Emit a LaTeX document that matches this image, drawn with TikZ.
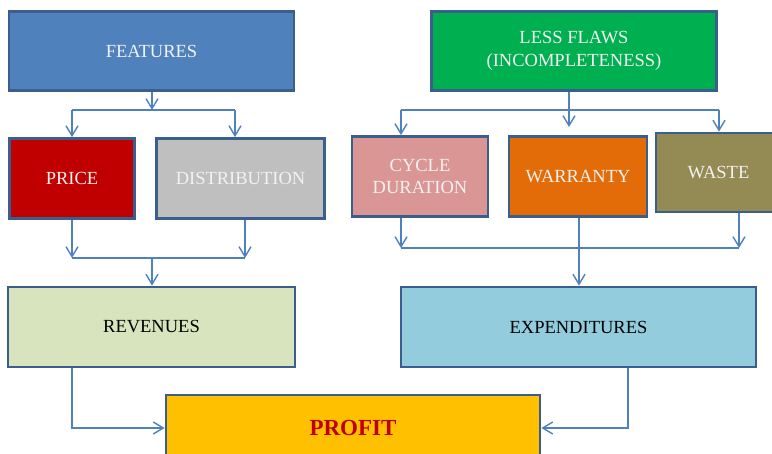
\documentclass[tikz,border=0pt]{standalone}
\usepackage{fontspec}
\setmainfont{Liberation Serif}
\usetikzlibrary{arrows.meta}
\definecolor{bord}{HTML}{3A5F8E}
\definecolor{conn}{HTML}{4F81BD}
\definecolor{cFeat}{HTML}{4F81BD}
\definecolor{cPrice}{HTML}{C00000}
\definecolor{cDist}{HTML}{BFBFBF}
\definecolor{cFlaws}{HTML}{00B050}
\definecolor{cCycle}{HTML}{D99694}
\definecolor{cWarr}{HTML}{E36C09}
\definecolor{cWaste}{HTML}{948A54}
\definecolor{cRev}{HTML}{D7E4BD}
\definecolor{cExp}{HTML}{93CDDD}
\definecolor{cProfit}{HTML}{FFC000}
\definecolor{ltext}{HTML}{F2F2F2}
\definecolor{ptext}{HTML}{C00000}
\tikzset{
  box/.style={draw=bord, line width=2.8pt, rectangle, inner sep=0pt, align=center,
    font=\fontsize{18.5}{22.5}\selectfont, text=ltext},
  conline/.style={draw=conn, line width=1.4pt},
  arr/.style={conline, -{Straight Barb[length=10pt,width=12pt,line width=1.4pt]}},
}
\begin{document}
\begin{tikzpicture}[x=1pt,y=-1pt]
\useasboundingbox (0,0) rectangle (772,454);
% boxes
\node[box, fill=cFeat, minimum width=285pt, minimum height=79pt] (feat) at (151.5,51) {FEATURES};
\node[box, fill=cPrice, minimum width=125pt, minimum height=80pt] (price) at (72,178.5) {PRICE};
\node[box, fill=cDist, minimum width=168pt, minimum height=80pt] (dist) at (240.5,178.5) {DISTRIBUTION};
\node[box, fill=cFlaws, minimum width=285pt, minimum height=79pt] (flaws) at (574,51) {LESS FLAWS\\(INCOMPLETENESS)};
\node[box, fill=cCycle, minimum width=136pt, minimum height=80pt] (cycle) at (420,176.5) {CYCLE\\DURATION};
\node[box, fill=cWarr, minimum width=138pt, minimum height=80pt] (warr) at (578,176.5) {WARRANTY};
\node[box, fill=cWaste, minimum width=125pt, minimum height=79pt] (waste) at (718.5,172.5) {WASTE};
\node[box, fill=cRev, text=black, minimum width=287pt, minimum height=80pt] (rev) at (151.5,327) {REVENUES};
\node[box, fill=cExp, text=black, minimum width=355pt, minimum height=80pt] (exp) at (578.5,327) {EXPENDITURES};
\node[box, fill=cProfit, text=ptext, font=\fontsize{23}{26}\selectfont\bfseries, minimum width=374pt, minimum height=66pt] (profit) at (353,428) {PROFIT};
% coordinates
\coordinate (fj) at (152,110);
\coordinate (fl) at (72,110);
\coordinate (fr) at (235,110);
\coordinate (pl) at (72,258);
\coordinate (dr) at (245,258);
\coordinate (rj) at (152,258);
\coordinate (lj) at (569,127);
\coordinate (cl) at (401,110);
\coordinate (wr) at (719,110);
\coordinate (cb) at (401,248);
\coordinate (wb) at (739,248);
\coordinate (xb) at (579,248);
\coordinate (rc) at (72,428);
\coordinate (ec) at (628,428);
% left top
\draw[arr] (fj |- feat.south) -- (fj);
\draw[conline] (fl) -- (fr);
\draw[arr] (fl) -- (fl |- price.north);
\draw[arr] (fr) -- (fr |- dist.north);
% left bottom
\draw[arr] (pl |- price.south) -- (pl);
\draw[arr] (dr |- dist.south) -- (dr);
\draw[conline] (pl) -- (dr);
\draw[arr] (rj) -- (rj |- rev.north);
% right top
\draw[arr] (lj |- flaws.south) -- (lj);
\draw[conline] (cl) -- (wr);
\draw[arr] (cl) -- (cl |- cycle.north);
\draw[arr] (wr) -- (wr |- waste.north);
% right bottom
\draw[arr] (cb |- cycle.south) -- (cb);
\draw[arr] (wb |- waste.south) -- (wb);
\draw[conline] (cb) -- (wb);
\draw[arr] (xb |- warr.south) -- (xb |- exp.north);
% to profit
\draw[arr] (rc |- rev.south) -- (rc) -- (rc -| profit.west);
\draw[arr] (ec |- exp.south) -- (ec) -- (ec -| profit.east);
\end{tikzpicture}
\end{document}
